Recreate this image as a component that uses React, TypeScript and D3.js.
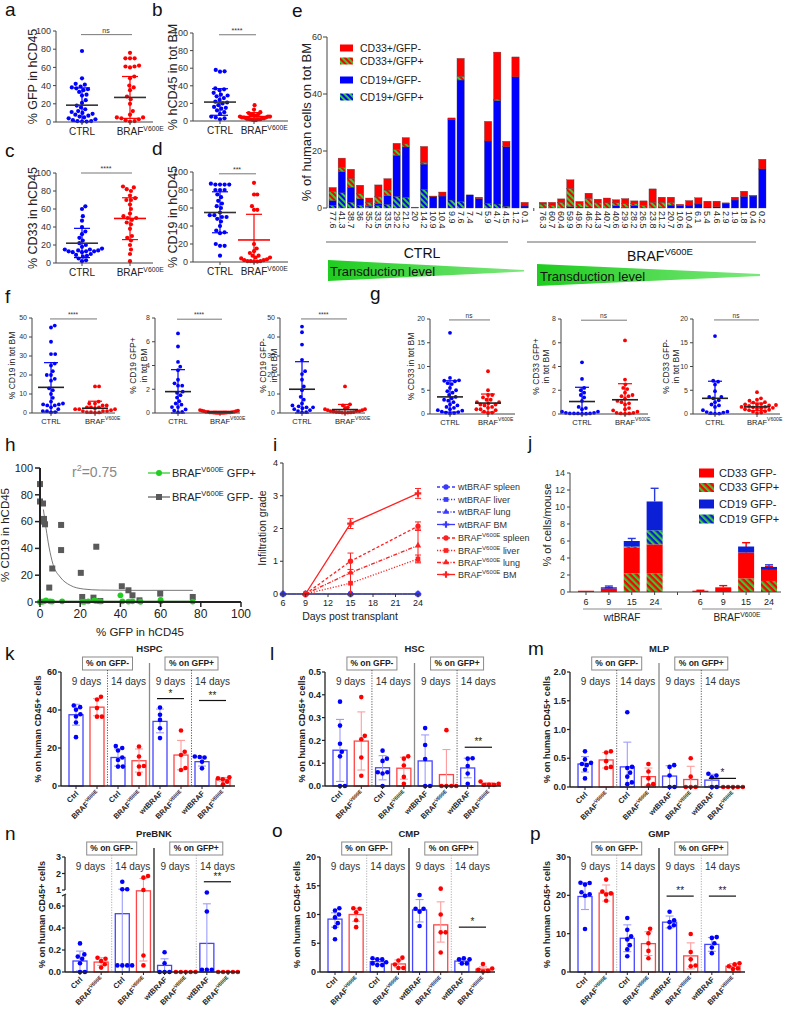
import React from "react";
import * as d3 from "d3";

const FONT = "'Liberation Sans', Arial, sans-serif";
const BLUE = "#0000ff";
const RED = "#ff0000";

// ---- a-d: % values per mouse ----
const aCtrl = [78, 48, 42, 41, 39, 38, 37, 36, 35, 33, 30, 29, 24, 21, 18, 16, 14, 12, 11, 10, 9, 8, 7, 6, 5, 4, 3, 2, 1, 1, 0.5, 0.5];
const aBraf = [76, 70, 70, 70, 62, 61, 61, 60, 50, 48, 40, 38, 35, 28, 25, 20, 12, 8, 5, 5, 4, 3, 2, 1, 0.5];
const aStats = [[18.5, 0.5, 37.5], [27, 4, 50]];
const bCtrl = [58, 56.5, 56, 37, 36, 35, 32, 30, 29, 28, 26, 24, 22, 21, 20, 18, 16, 15, 14, 12, 10, 8, 5, 4, 3, 2];
const bBraf = [18, 13, 10, 9, 8, 7, 7, 6, 6, 5, 5, 5, 4, 4, 4, 3, 3, 3, 3, 2, 2, 2, 1.5, 1, 1];
const bStats = [[21.5, 6.5, 36.7], [5, 1, 9.5]];
const cCtrl = [63, 60, 52, 47, 40, 35, 32, 28, 25, 22, 20, 18, 16, 15, 15, 14, 14, 13, 13, 13, 12, 12, 10, 9, 8, 7, 5, 3, 2];
const cBraf = [85, 84, 82, 80, 75, 72, 70, 70, 65, 60, 55, 52, 50, 50, 48, 45, 43, 38, 30, 28, 25, 20, 15, 10, 2];
const cStats = [[22, 6, 38.5], [49.5, 26, 72.5]];
const dCtrl = [87, 86, 86, 86, 86, 80, 80, 80, 75, 72, 68, 65, 62, 60, 55, 52, 52, 50, 50, 48, 45, 40, 35, 33, 32, 20, 18, 18, 7];
const dBraf = [88, 75, 75, 62, 58, 58, 20, 15, 12, 10, 7, 7, 5, 5, 4, 3, 2, 2, 1, 1, 1, 0.5, 0.5];
const dStats = [[55, 32.5, 78], [24.5, 0, 53]];

// ---- f, g ----
const f1Ctrl = [46, 45, 37.5, 31, 31, 26, 25, 22, 20, 20, 18, 17, 13, 12, 10, 8, 6, 5, 4.5, 4.5, 4, 4, 3, 2, 1, 1, 0.5, 0.3];
const f1Braf = [14, 14, 6, 5, 5, 4, 4, 3, 3, 3, 2.5, 2, 2, 2, 1.5, 1, 1, 1, 0.5, 0.5, 0.3, 0.2];
const f1Stats = [[13.5, 0.5, 26.5], [2.5, 0, 6.2]];
const f2Ctrl = [6.7, 5.6, 4.3, 3.9, 3.6, 2.8, 2.5, 2.3, 2.3, 1.8, 1.7, 1.5, 1.3, 1.0, 0.8, 0.7, 0.5, 0.5, 0.3, 0.2, 0.1, 0.05];
const f2Braf = [0.25, 0.2, 0.2, 0.15, 0.15, 0.1, 0.1, 0.1, 0.08, 0.05, 0.05, 0.05, 0.05, 0.03, 0.03, 0.02, 0.02, 0.01, 0.01, 0.01];
const f2Stats = [[1.8, 0, 3.65], [0.07, 0, 0.15]];
const f3Ctrl = [45.5, 42.5, 36, 28, 22, 20.5, 17.5, 14, 12, 8.5, 7, 5, 4, 3.5, 3, 3, 2.5, 2, 1.5, 1, 0.5, 0.3];
const f3Braf = [14, 4.5, 4, 3, 2.5, 2, 2, 1.5, 1.5, 1, 1, 1, 0.8, 0.5, 0.5, 0.5, 0.3, 0.2, 0.2, 0.1];
const f3Stats = [[12.5, 0, 27], [1.8, 0, 4.5]];
const g1Ctrl = [17.1, 7.6, 7.1, 7, 6.9, 6.5, 6.3, 5.5, 5, 4.8, 4.5, 4, 3.6, 3.3, 3, 2.8, 2.5, 2, 1.8, 1.5, 1.3, 1, 0.8, 0.7, 0.5, 0.4, 0.3, 0.2, 0.1];
const g1Braf = [9, 5, 4, 4, 3.5, 3, 3, 2.5, 2.5, 2.2, 2, 2, 1.8, 1.5, 1.3, 1, 1, 0.8, 0.5, 0.3, 0.2];
const g1Stats = [[3.6, 0.4, 7], [2.3, 0.4, 4.2]];
const g2Ctrl = [4.35, 2.95, 2.2, 2.0, 1.8, 1.6, 1.4, 1.1, 0.6, 0.5, 0.4, 0.2, 0.2, 0.1, 0.1, 0.05, 0.05, 0.05, 0.05, 0.03, 0.02];
const g2Braf = [6.2, 2.9, 2.5, 2.2, 2.1, 1.8, 1.6, 1.5, 1.5, 1.3, 1.1, 1.0, 0.9, 0.8, 0.5, 0.4, 0.3, 0.2, 0.1, 0.1, 0.05, 0.05, 0.02];
const g2Stats = [[1.05, 0, 2.25], [1.2, 0, 2.55]];
const g3Ctrl = [16.4, 7, 6.8, 6.2, 4.8, 3.6, 3.6, 3.3, 2.9, 2.5, 2, 1.8, 1.5, 0.8, 0.5, 0.4, 0.3, 0.2, 0.1, 0.1];
const g3Braf = [4.6, 3.3, 3, 2.8, 2.5, 2.4, 2.1, 2, 2, 1.9, 1.8, 1.7, 1.5, 1.5, 1.4, 1.3, 1.2, 1.1, 1, 0.9, 0.8, 0.6, 0.5, 0.3, 0.2];
const g3Stats = [[3.3, 0, 6.9], [1.5, 0.7, 2.3]];

// ---- e: stacked per mouse, labelled by transduction level ----
const eCtrlLabels = ["77.6", "41.3", "38.7", "36", "35.2", "33.5", "33.5", "29.2", "21.2", "20", "14.2", "10.9", "10.4", "9.9", "7.6", "7.4", "7", "5.9", "4.7", "4.5", "1.2", "0.1"];
const eCtrlCd19gp = [1.0, 5.3, 2.0, 1.0, 0.5, 0.8, 1.2, 4.0, 3.7, 0, 6.5, 0, 0, 2.8, 2.2, 0, 0, 1.6, 1.4, 0.6, 0, 0];
const eCtrlCd19gm = [1.6, 7.4, 5.3, 2.2, 0.3, 0.8, 3.1, 14.5, 17.7, 0, 8.9, 3.9, 4.2, 28.3, 42.7, 4.6, 3.3, 21.9, 36.3, 20.9, 46, 0.7];
const eCtrlCd33gp = [3.2, 1.5, 3.0, 1.8, 1.2, 2.3, 2.0, 2.0, 1.1, 0, 0.6, 0, 0, 0, 1.3, 0, 0, 0, 0.5, 0, 0, 0];
const eCtrlCd33gm = [1.4, 3.3, 3.3, 3.0, 1.5, 4.2, 4.0, 2.2, 2.2, 0.3, 5.6, 0.3, 1.4, 0.5, 6.3, 0, 0.5, 6.9, 16.5, 1.9, 7.0, 1.3];
const eBrafLabels = ["76.3", "60.7", "60.4", "59.9", "49.6", "46.2", "44.3", "40.7", "40.6", "29.9", "28.2", "26.5", "23.8", "21.2", "20.7", "10.6", "10.4", "6.1", "5.4", "4.6", "2.9", "1.9", "1.8", "0.4", "0.2"];
const eBrafCd19gp = [0.2, 0, 0, 0, 0, 0, 0, 0, 0, 0, 0, 0, 0, 0, 0, 0, 0, 0, 0, 0, 0, 0, 0, 0, 0];
const eBrafCd19gm = [0, 0, 0, 0.5, 0.3, 0.3, 0, 0, 0.8, 0.2, 0.9, 0, 0, 0.2, 1.0, 0.9, 1.0, 1.4, 0.3, 0.4, 1.7, 2.8, 4.1, 4.2, 13.7];
const eBrafCd33gp = [1.2, 1.0, 2.0, 6.3, 1.2, 3.0, 1.8, 1.8, 1.0, 1.3, 0.6, 0.9, 2.0, 1.8, 0.9, 0, 0, 0, 0, 0, 0, 0, 0, 0, 0];
const eBrafCd33gm = [0.6, 1.0, 1.2, 3.1, 0.8, 1.9, 1.3, 1.7, 1.1, 1.8, 1.0, 1.6, 4.7, 1.8, 1.9, 0.4, 1.6, 2.2, 2.1, 2.0, 0.1, 1.0, 1.8, 0.2, 3.4];

// ---- h ----
const hNegX = [0, 0, 1.5, 2, 2, 2.5, 4.6, 6.1, 10.5, 10.5, 20.3, 21, 26.6, 28, 30, 40.7, 44, 46, 49.5, 59.8, 76];
const hNegY = [88, 75, 73.5, 62, 60, 58, 10.75, 25, 57.5, 38.75, 21.75, 3.75, 3.25, 41.25, 0.75, 11.75, 8.75, 5, 1.25, 6.25, 3.75];
const hPosX = [0, 1, 2, 3, 5, 6, 11, 21, 22, 24, 27, 28, 30, 40, 41, 44, 46, 50, 60, 60, 76];
const hPosY = [0, 0.2, 0.5, 1.2, 0.5, 0.3, 0.5, 0.3, 0.2, 0.5, 1.2, 0.8, 0.4, 5, 0.5, 0.3, 0.5, 0.2, 0.5, 1.5, 0.3];
const hFitNegX = [1.7, 3, 4.5, 6.5, 10, 15, 21.6, 30, 45, 76];
const hFitNegY = [69, 55, 41, 28, 18.7, 12.5, 9.7, 8.9, 8.7, 8.7];
const hFitPosX = [0, 76];
const hFitPosY = [0.6, 0.6];

// ---- i ----
const iDays = [6, 9, 15, 24];
const iWtSpleen = [0, 0, 0, 0];
const iWtLiver = [0, 0, 0, 0];
const iWtLung = [0, 0, 0, 0];
const iWtBM = [0, 0, 0, 0];
const iBrafDays = [9, 15, 24];
const iBrafSpleen = [0, 1.0, 2.07];
const iBrafSpleenErr = [0, 0.25, 0.13];
const iBrafLiver = [0, 0.33, 1.07];
const iBrafLiverErr = [0, 0.33, 0.12];
const iBrafLung = [0, 0.65, 1.48];
const iBrafLungErr = [0, 0, 0.5];
const iBrafBM = [0, 2.15, 3.07];
const iBrafBMErr = [0, 0.15, 0.15];

// ---- j ----
const jDays = ["6", "9", "15", "24"];
const jWtCd33gp = [0, 0, 2.2, 2.2];
const jWtCd33gm = [0.15, 0.4, 3.0, 3.4];
const jWtCd19gp = [0, 0, 0.15, 1.65];
const jWtCd19gm = [0, 0.15, 0.65, 3.4];
const jBrCd33gp = [0, 0, 1.6, 1.3];
const jBrCd33gm = [0.15, 0.55, 3.05, 1.3];
const jBrCd19gp = [0, 0, 0, 0];
const jBrCd19gm = [0, 0, 0.7, 0.35];
const jWtErr33 = [0, 0.1, 0.55, 0.45];
const jBrErr33 = [0.05, 0.2, 1.15, 0.4];
const jWtErr19p = [0, 0, 0, 0.55];
const jBrErr19p = [0, 0, 0, 0];
const jWtErr19m = [0, 0.15, 0.3, 1.55];
const jBrErr19m = [0, 0, 0, 0.25];

// ---- k-p: bar = mean, lo/hi = SD, dots = mice ----
const groupLabels = ["Ctrl", "BRAF", "Ctrl", "BRAF", "wtBRAF", "BRAF", "wtBRAF", "BRAF"];
const kBars = [37.5, 41.5, 15, 13.3, 34, 16.3, 12.8, 3.5];
const kLo = [32, 37, 10.5, 7.3, 28, 8.5, 10.5, 2.5];
const kHi = [43, 46, 19.5, 19.5, 40.5, 24, 15.5, 4.5];
const kDots = [[42.4, 41.5, 40.1, 37.8, 36.6, 33.4, 25.7], [47, 45.5, 41, 36.5, 36.5], [21, 20, 18.7, 15, 13.7, 10.2, 10.2], [20.8, 15.5, 10.5, 10.3, 6.3], [41.3, 37.5, 34.8, 30.4, 25.2], [29.2, 18, 16.3, 9.5, 8.4], [15.5, 15.3, 15, 12.8, 9.3], [4.6, 4, 3.5, 2.3, 0.9]];
const lBars = [0.157, 0.197, 0.08, 0.078, 0.11, 0.05, 0.079, 0.01];
const lLo = [0.02, 0.07, 0.027, 0.03, 0, 0, 0.036, 0.005];
const lHi = [0.292, 0.325, 0.133, 0.126, 0.224, 0.16, 0.122, 0.015];
const lDots = [[0.37, 0.265, 0.185, 0.15, 0.13, 0, 0], [0.39, 0.22, 0.205, 0.125, 0.045], [0.155, 0.12, 0.11, 0.06, 0.06, 0.055, 0], [0.13, 0.12, 0.09, 0.04, 0.01], [0.254, 0.18, 0.118, 0, 0], [0.245, 0, 0, 0, 0], [0.122, 0.12, 0.088, 0.055, 0.01], [0.02, 0.01, 0.005, 0.005, 0.005]];
const mBars = [0.4, 0.47, 0.35, 0.18, 0.19, 0.13, 0.12, 0];
const mLo = [0.26, 0.33, 0, 0.03, 0, 0, 0.02, 0];
const mHi = [0.53, 0.6, 0.78, 0.33, 0.37, 0.36, 0.22, 0];
const mDots = [[0.62, 0.48, 0.42, 0.4, 0.38, 0.3, 0.15], [0.62, 0.6, 0.45, 0.35, 0.33], [1.3, 0.35, 0.33, 0.25, 0.18, 0.08, 0.05], [0.4, 0.27, 0.15, 0.05, 0.03], [0.38, 0.35, 0.2, 0, 0], [0.5, 0.18, 0, 0, 0], [0.23, 0.2, 0.17, 0, 0], [0, 0, 0, 0, 0]];
const nBars = [0.1, 0.09, 0.53, 0.95, 0.06, 0, 0.26, 0];
const nLo = [0.01, 0.06, 0, 0.1, 0, 0, 0, 0];
const nHi = [0.19, 0.13, 1.05, 1.7, 0.12, 0, 0.62, 0];
const nDots = [[0.26, 0.16, 0.14, 0.12, 0.08, 0, 0], [0.13, 0.12, 0.1, 0.07, 0.04], [1.5, 1.05, 1.05, 0.06, 0.06, 0.06, 0.06], [1.85, 1.75, 1.0, 0.15, 0.06], [0.18, 0.08, 0, 0, 0], [0, 0, 0, 0, 0], [0.85, 0.55, 0.02, 0.02, 0.02], [0, 0, 0, 0, 0]];
const oBars = [9.2, 10, 1.8, 1.4, 10.8, 8.2, 1.9, 0.5];
const oLo = [7.8, 8.8, 1.3, 0.8, 8.7, 5.2, 1.5, 0.1];
const oHi = [10.3, 11.1, 2.2, 2.1, 12.6, 12.2, 2.3, 0.9];
const oDots = [[11.1, 10.7, 10, 9.5, 8.5, 7.8, 5.7], [11.1, 11, 10.4, 9, 7.8], [2.4, 2.2, 2.2, 1.7, 1.5, 1.2, 1.2], [2.5, 2.0, 1.3, 0.7, 0.7], [13.4, 11, 11, 10.5, 8], [14.5, 10, 6.9, 6.9, 3.4], [2.4, 2.2, 2.2, 1.5, 1.5], [1.4, 0.6, 0.4, 0.2, 0.1]];
const pBars = [19.7, 20.6, 8.8, 7.4, 13.0, 4.2, 7.2, 1.5];
const pLo = [16.3, 18.5, 5.3, 4.3, 11.5, 0.8, 5.4, 0.9];
const pHi = [23.3, 22.7, 12.3, 10.5, 14.6, 7.6, 9.0, 2.2];
const pDots = [[23.3, 23.2, 22.8, 20.8, 20.3, 19.9, 11.2], [24.1, 21.0, 20.5, 20.2, 18.6], [14.1, 11.0, 9.3, 8.5, 7.0, 5.9, 4.1], [11.3, 10.1, 7.5, 5.5, 3.6], [15.7, 13.5, 13.0, 12.2, 11.6], [9.9, 5.2, 3.3, 1.7, 1.5], [9.1, 8.9, 7.5, 6.4, 4.9], [2.3, 2.0, 1.5, 0.9, 0.8]];

// simple beeswarm: x offsets so dots don't overlap, squeezed if wider than maxW
function swarm(ys: number[], d: number, maxW = Infinity): number[] {
  const order = d3.range(ys.length).sort((a, b) => ys[b] - ys[a]);
  const placed: [number, number][] = [];
  const out = new Array(ys.length).fill(0);
  for (const i of order) {
    const y = ys[i];
    const cands = [0];
    for (const [px, py] of placed) {
      const dy = Math.abs(py - y);
      if (dy < d) {
        const dx = Math.sqrt(d * d - dy * dy);
        cands.push(px + dx + 0.01, px - dx - 0.01);
      }
    }
    cands.sort((a, b) => Math.abs(a) - Math.abs(b));
    let x = 0;
    for (const c of cands) {
      if (placed.every(([px, py]) => (px - c) ** 2 + (py - y) ** 2 >= d * d - 0.02)) { x = c; break; }
    }
    placed.push([x, y]);
    out[i] = x;
  }
  const w = d3.max(out, (v) => Math.abs(v)) || 0;
  return w > maxW ? out.map((v) => (v * maxW) / w) : out;
}

function Braf({ fs, rest }: { fs: number; rest?: string }) {
  return (
    <>
      <tspan>BRAF</tspan>
      <tspan fontSize={fs * 0.68} dy={-fs * 0.42}>V600E</tspan>
      {rest ? <tspan dx={fs * 0.28} dy={fs * 0.42}>{rest}</tspan> : null}
    </>
  );
}

function DotPanel(c: any) {
  const y = d3.scaleLinear().domain([0, c.max]).range([c.yBot, c.yTop]);
  const x = d3.scalePoint<string>().domain(["CTRL", "BRAF"]).range(c.cats);
  const s = c.small;
  const r = s ? 1.9 : 2.1;
  const fsT = s ? 7 : 9, fsX = s ? 7.5 : 10, fsL = s ? 8.5 : 12.5;
  const mw = s ? 13 : 16, cw = s ? 7 : 8;
  const groups = [{ k: "CTRL", v: c.ctrl, col: BLUE }, { k: "BRAF", v: c.braf, col: RED }];
  const ticks = d3.range(0, c.max + c.step / 2, c.step);
  const midY = (c.yTop + c.yBot) / 2;
  const sy = y(c.sigV);
  return (
    <g>
      {groups.map((g, gi) => {
        const ys = g.v.map((v: number) => y(v));
        const off = swarm(ys, 2 * r + 0.4, c.maxW || 20);
        const cx = x(g.k)!;
        const [m, lo, hi] = c.stats[gi];
        return (
          <g key={g.k}>
            {ys.map((yy: number, i: number) => <circle key={i} cx={cx + off[i]} cy={yy} r={r} fill={g.col} />)}
            <line x1={cx} x2={cx} y1={y(lo)} y2={y(hi)} stroke={g.col} strokeWidth={1.2} />
            <line x1={cx - cw} x2={cx + cw} y1={y(hi)} y2={y(hi)} stroke={g.col} strokeWidth={1.2} />
            <line x1={cx - cw} x2={cx + cw} y1={y(lo)} y2={y(lo)} stroke={g.col} strokeWidth={1.2} />
            <line x1={cx - mw} x2={cx + mw} y1={y(m)} y2={y(m)} stroke={c.meanCols[gi]} strokeWidth={1.6} />
          </g>
        );
      })}
      <line x1={c.axisX} x2={c.axisX} y1={c.yTop} y2={c.yBot} stroke="#444" />
      <line x1={c.axisX} x2={c.xEnd} y1={c.yBot} y2={c.yBot} stroke="#444" />
      {ticks.map((t: number) => (
        <g key={t}>
          <line x1={c.axisX - 3} x2={c.axisX} y1={y(t)} y2={y(t)} stroke="#444" />
          <text x={c.axisX - 5} y={y(t)} dy="0.35em" textAnchor="end" fontSize={fsT} fill="#333">{t}</text>
        </g>
      ))}
      {groups.map((g) => (
        <line key={g.k} x1={x(g.k)} x2={x(g.k)} y1={c.yBot} y2={c.yBot + 3} stroke="#444" />
      ))}
      <text x={x("CTRL")} y={c.yBot + fsX + 3} textAnchor="middle" fontSize={fsX} fill="#222">CTRL</text>
      <text x={x("BRAF")! - 1.33 * fsX} y={c.yBot + fsX + 3} fontSize={fsX} fill="#222"><Braf fs={fsX} /></text>
      <line x1={c.cats[0] - 1} x2={c.cats[1] + 2} y1={sy} y2={sy} stroke="#777" />
      <text x={(c.cats[0] + c.cats[1]) / 2} y={sy - 2} textAnchor="middle" fontSize={s ? 6.5 : 7} fill="#333">{c.sig}</text>
      {c.ylabel.map((t: string, i: number) => (
        <text key={i} transform={`translate(${c.ylabelX[i]},${midY}) rotate(-90)`} textAnchor="middle" fontSize={fsL} fill="#222">{t}</text>
      ))}
    </g>
  );
}

const eKeys = ["cd19gp", "cd19gm", "cd33gp", "cd33gm"];
const eFill: any = { cd19gp: "url(#stBG)", cd19gm: BLUE, cd33gp: "url(#stRG)", cd33gm: RED };

function PanelE() {
  const slots = [...eCtrlLabels.map((_, i) => "c" + i), "gap", ...eBrafLabels.map((_, i) => "b" + i)];
  const labels = [...eCtrlLabels, "", ...eBrafLabels];
  const rows = slots.map((s) => {
    if (s === "gap") return { slot: s, cd19gp: 0, cd19gm: 0, cd33gp: 0, cd33gm: 0 };
    const k = +s.slice(1);
    const ctrl = s[0] === "c";
    return {
      slot: s,
      cd19gp: (ctrl ? eCtrlCd19gp : eBrafCd19gp)[k],
      cd19gm: (ctrl ? eCtrlCd19gm : eBrafCd19gm)[k],
      cd33gp: (ctrl ? eCtrlCd33gp : eBrafCd33gp)[k],
      cd33gm: (ctrl ? eCtrlCd33gm : eBrafCd33gm)[k],
    };
  });
  const stack = d3.stack<any>().keys(eKeys)(rows);
  const x = d3.scaleBand().domain(slots).range([329, 766]).paddingInner(0.2);
  const y = d3.scaleLinear().domain([0, 60]).range([208, 37]);
  const legend = [
    { k: "cd33gm", t: "CD33+/GFP-", y: 48 },
    { k: "cd33gp", t: "CD33+/GFP+", y: 61 },
    { k: "cd19gm", t: "CD19+/GFP-", y: 80 },
    { k: "cd19gp", t: "CD19+/GFP+", y: 97 },
  ];
  return (
    <g>
      {stack.map((layer) => (
        <g key={layer.key}>
          {layer.map((d: any, i: number) =>
            d[1] - d[0] > 0 ? (
              <rect key={i} x={x(slots[i])} width={x.bandwidth()} y={y(d[1])} height={y(d[0]) - y(d[1])}
                fill={eFill[layer.key]} stroke="#444" strokeWidth={0.35} />
            ) : null
          )}
        </g>
      ))}
      <line x1={327} x2={327} y1={37} y2={208} stroke="#444" />
      {[0, 20, 40, 60].map((t) => (
        <g key={t}>
          <line x1={323} x2={327} y1={y(t)} y2={y(t)} stroke="#444" />
          <text x={322} y={y(t)} dy="0.35em" textAnchor="end" fontSize={9} fill="#333">{t}</text>
        </g>
      ))}
      <line x1={x("gap")! + x.bandwidth() / 2} x2={x("gap")! + x.bandwidth() / 2} y1={208} y2={211} stroke="#444" />
      {labels.map((l, i) =>
        l ? (
          <text key={i} transform={`translate(${x(slots[i])! + x.bandwidth() / 2 - 3},${211}) rotate(90)`} fontSize={9} fill="#222">{l}</text>
        ) : null
      )}
      <text transform="translate(311,122) rotate(-90)" textAnchor="middle" fontSize={13} fill="#222">% of human cells on tot BM</text>
      {legend.map((l) => (
        <g key={l.k}>
          <rect x={340} y={l.y - 3.5} width={13} height={7} fill={eFill[l.k]} />
          <text x={360} y={l.y} dy="0.35em" fontSize={10.5} fill="#222">{l.t}</text>
        </g>
      ))}
      <line x1={326} x2={508} y1={242} y2={242} stroke="#666" />
      <line x1={527} x2={756} y1={242} y2={242} stroke="#666" />
      <text x={422} y={258} textAnchor="middle" fontSize={14} fill="#111">CTRL</text>
      <text x={660} y={261} textAnchor="middle" fontSize={14} fill="#111"><Braf fs={14} /></text>
      <polygon points="328,260 524,270 524,271.5 328,281" fill="url(#tri)" />
      <polygon points="537,264 760,274 760,276 537,286" fill="url(#tri)" />
      <text x={330} y={276} fontSize={13} fill="#111">Transduction level</text>
      <text x={540} y={281} fontSize={13} fill="#111">Transduction level</text>
    </g>
  );
}

function PanelH() {
  const x = d3.scaleLinear().domain([0, 100]).range([40, 241]);
  const y = d3.scaleLinear().domain([0, 100]).range([602, 468]);
  const line = d3.line<[number, number]>().x((d) => x(d[0])).y((d) => y(d[1])).curve(d3.curveMonotoneX);
  const negFit = hFitNegX.map((v, i) => [v, hFitNegY[i]] as [number, number]);
  const posFit = hFitPosX.map((v, i) => [v, hFitPosY[i]] as [number, number]);
  const ticks = [0, 20, 40, 60, 80, 100];
  return (
    <g>
      <path d={line(negFit)!} fill="none" stroke="#777" strokeWidth={1} />
      {hNegX.map((v, i) => (
        <rect key={i} x={x(v) - 3} y={y(hNegY[i]) - 3} width={6} height={6} fill="#5a5a5a" />
      ))}
      {hPosX.map((v, i) => (
        <circle key={i} cx={x(v)} cy={y(hPosY[i])} r={2.9} fill="#22cc22" />
      ))}
      <path d={line(posFit)!} fill="none" stroke="#1d6e1d" strokeWidth={1} />
      <line x1={40} x2={40} y1={468} y2={603} stroke="#222" strokeWidth={2} />
      <line x1={39} x2={241} y1={602} y2={602} stroke="#222" strokeWidth={2} />
      {ticks.map((t) => (
        <g key={t}>
          <line x1={35} x2={40} y1={y(t)} y2={y(t)} stroke="#222" strokeWidth={1.5} />
          <text x={33} y={y(t)} dy="0.35em" textAnchor="end" fontSize={11} fill="#222">{t}</text>
          <line x1={x(t)} x2={x(t)} y1={602} y2={607} stroke="#222" strokeWidth={1.5} />
          <text x={x(t)} y={618} textAnchor="middle" fontSize={12} fill="#222">{t}</text>
        </g>
      ))}
      <text transform="translate(9,535) rotate(-90)" textAnchor="middle" fontSize={11.5} fill="#222">% CD19 in hCD45</text>
      <text x={140} y={636} textAnchor="middle" fontSize={11.5} fill="#222">% GFP in hCD45</text>
      <text x={72} y={477} fontSize={14} fill="#888">r<tspan fontSize={9} dy={-6}>2</tspan><tspan dy={6}>=0.75</tspan></text>
      <line x1={148} x2={170} y1={473} y2={473} stroke="#22cc22" strokeWidth={1.2} />
      <circle cx={159} cy={473} r={3} fill="#22cc22" />
      <text x={172} y={477} fontSize={11} fill="#222"><Braf fs={11} rest="GFP+" /></text>
      <line x1={148} x2={170} y1={497} y2={497} stroke="#5a5a5a" strokeWidth={1.2} />
      <rect x={156} y={494} width={6} height={6} fill="#5a5a5a" />
      <text x={172} y={501} fontSize={11} fill="#222"><Braf fs={11} rest="GFP-" /></text>
    </g>
  );
}

const iStyles = [
  { name: "spleen", dash: "3,2", sym: d3.symbolCircle, size: 22 },
  { name: "liver", dash: "1.2,1.6", sym: d3.symbolSquare, size: 22 },
  { name: "lung", dash: "4,1.5,1,1.5", sym: d3.symbolTriangle, size: 18 },
  { name: "BM", dash: "", sym: d3.symbolCross, size: 24 },
];

function PanelI() {
  const x = d3.scaleLinear().domain([6, 24]).range([283, 418]);
  const y = d3.scaleLinear().domain([0, 4]).range([594, 463]);
  const wt = [iWtSpleen, iWtLiver, iWtLung, iWtBM];
  const br = [iBrafSpleen, iBrafLiver, iBrafLung, iBrafBM];
  const brErr = [iBrafSpleenErr, iBrafLiverErr, iBrafLungErr, iBrafBMErr];
  const line = d3.line<number>();
  const legendY = [487, 499.5, 512, 524.5, 538, 550.5, 562.5, 574.5];
  const wtCol = "#3a3aff";
  const brCol = "#ff2020";
  return (
    <g>
      {wt.map((vals, si) => (
        <g key={"w" + si}>
          <path d={line.x((_, i) => x(iDays[i])).y((v) => y(v))(vals)!} fill="none" stroke="#7a7aff" strokeWidth={1.4} strokeDasharray={iStyles[si].dash} />
          {vals.map((v, i) => (
            <path key={i} d={d3.symbol().type(iStyles[si].sym).size(iStyles[si].size)()!} transform={`translate(${x(iDays[i])},${y(v)})`} fill={wtCol} />
          ))}
        </g>
      ))}
      {br.map((vals, si) => (
        <g key={"b" + si}>
          <path d={line.x((_, i) => x(iBrafDays[i])).y((v) => y(v))(vals)!} fill="none" stroke={brCol} strokeWidth={1.3} strokeDasharray={iStyles[si].dash} />
          {vals.map((v, i) => {
            const e = brErr[si][i];
            const cx = x(iBrafDays[i]);
            return (
              <g key={i}>
                {e > 0 ? (
                  <g stroke={brCol} strokeWidth={1}>
                    <line x1={cx} x2={cx} y1={y(v - e)} y2={y(v + e)} />
                    <line x1={cx - 3} x2={cx + 3} y1={y(v - e)} y2={y(v - e)} />
                    <line x1={cx - 3} x2={cx + 3} y1={y(v + e)} y2={y(v + e)} />
                  </g>
                ) : null}
                <path d={d3.symbol().type(iStyles[si].sym).size(iStyles[si].size)()!} transform={`translate(${cx},${y(v)})`} fill={brCol} />
              </g>
            );
          })}
        </g>
      ))}
      <line x1={283} x2={283} y1={463} y2={594} stroke="#333" />
      <line x1={283} x2={420} y1={594} y2={594} stroke="#333" />
      {[0, 1, 2, 3, 4].map((t) => (
        <g key={t}>
          <line x1={280} x2={283} y1={y(t)} y2={y(t)} stroke="#333" />
          <text x={278} y={y(t)} dy="0.35em" textAnchor="end" fontSize={9} fill="#222">{t}</text>
        </g>
      ))}
      {[6, 9, 12, 15, 18, 21, 24].map((t) => (
        <g key={t}>
          <line x1={x(t)} x2={x(t)} y1={594} y2={597} stroke="#333" />
          <text x={x(t)} y={606} textAnchor="middle" fontSize={9} fill="#222">{t}</text>
        </g>
      ))}
      <text x={350} y={620} textAnchor="middle" fontSize={10.5} fill="#222">Days post transplant</text>
      <text transform="translate(266,528) rotate(-90)" textAnchor="middle" fontSize={10.5} fill="#222">Infiltration grade</text>
      {iStyles.map((st, si) => (
        <g key={"lw" + si}>
          <line x1={437} x2={455} y1={legendY[si]} y2={legendY[si]} stroke={wtCol} strokeWidth={1.3} strokeDasharray={st.dash} />
          <path d={d3.symbol().type(st.sym).size(st.size)()!} transform={`translate(446,${legendY[si]})`} fill={wtCol} />
          <text x={458} y={legendY[si]} dy="0.35em" fontSize={9} fill="#333">wtBRAF {st.name}</text>
        </g>
      ))}
      {iStyles.map((st, si) => (
        <g key={"lb" + si}>
          <line x1={437} x2={455} y1={legendY[si + 4]} y2={legendY[si + 4]} stroke={brCol} strokeWidth={1.3} strokeDasharray={st.dash} />
          <path d={d3.symbol().type(st.sym).size(st.size)()!} transform={`translate(446,${legendY[si + 4]})`} fill={brCol} />
          <text x={458} y={legendY[si + 4]} dy="0.35em" fontSize={9} fill="#333"><Braf fs={9} rest={st.name} /></text>
        </g>
      ))}
    </g>
  );
}

const jKeys = ["cd33gp", "cd33gm", "cd19gp", "cd19gm"];
const jFill: any = { cd33gp: "url(#jRG)", cd33gm: RED, cd19gp: "url(#jBG)", cd19gm: "#0b1fd6" };

function PanelJ() {
  const slots = ["w6", "w9", "w15", "w24", "gap", "b6", "b9", "b15", "b24"];
  const rows = slots.map((s) => {
    if (s === "gap") return { cd33gp: 0, cd33gm: 0, cd19gp: 0, cd19gm: 0, e33: 0, e19p: 0, e19m: 0 };
    const k = jDays.indexOf(s.slice(1));
    const wt = s[0] === "w";
    return {
      cd33gp: (wt ? jWtCd33gp : jBrCd33gp)[k],
      cd33gm: (wt ? jWtCd33gm : jBrCd33gm)[k],
      cd19gp: (wt ? jWtCd19gp : jBrCd19gp)[k],
      cd19gm: (wt ? jWtCd19gm : jBrCd19gm)[k],
      e33: (wt ? jWtErr33 : jBrErr33)[k],
      e19p: (wt ? jWtErr19p : jBrErr19p)[k],
      e19m: (wt ? jWtErr19m : jBrErr19m)[k],
    };
  });
  const stack = d3.stack<any>().keys(jKeys)(rows);
  const x = d3.scaleBand().domain(slots).range([578, 777]).paddingInner(0.3);
  const y = d3.scaleLinear().domain([0, 14]).range([592, 473]);
  const errKey: any = { cd33gm: ["e33", RED], cd19gp: ["e19p", "#3b5bff"], cd19gm: ["e19m", "#2a3ae0"] };
  const legend = [
    { k: "cd33gm", t: "CD33 GFP-", y: 473 },
    { k: "cd33gp", t: "CD33 GFP+", y: 487.5 },
    { k: "cd19gm", t: "CD19 GFP-", y: 504 },
    { k: "cd19gp", t: "CD19 GFP+", y: 519 },
  ];
  const cx = (s: string) => x(s)! + x.bandwidth() / 2;
  return (
    <g>
      {stack.map((layer) => (
        <g key={layer.key}>
          {layer.map((d: any, i: number) => {
            if (d[1] - d[0] <= 0) return null;
            const ek = errKey[layer.key];
            const e = ek ? rows[i][ek[0]] : 0;
            return (
              <g key={i}>
                {e > 0 ? (
                  <g stroke={ek[1]} strokeWidth={1.4}>
                    <line x1={cx(slots[i])} x2={cx(slots[i])} y1={y(d[1])} y2={y(d[1] + e)} />
                    <line x1={cx(slots[i]) - 4} x2={cx(slots[i]) + 4} y1={y(d[1] + e)} y2={y(d[1] + e)} />
                  </g>
                ) : null}
                <rect x={x(slots[i])} width={x.bandwidth()} y={y(d[1])} height={y(d[0]) - y(d[1])} fill={jFill[layer.key]} />
              </g>
            );
          })}
        </g>
      ))}
      <line x1={570} x2={570} y1={473} y2={592} stroke="#444" />
      <line x1={570} x2={781} y1={592} y2={592} stroke="#444" />
      {d3.range(0, 15, 2).map((t) => (
        <g key={t}>
          <line x1={567} x2={570} y1={y(t)} y2={y(t)} stroke="#444" />
          <text x={565} y={y(t)} dy="0.35em" textAnchor="end" fontSize={9} fill="#333">{t}</text>
        </g>
      ))}
      {slots.map((s) =>
        s === "gap" ? (
          <line key={s} x1={cx(s)} x2={cx(s)} y1={592} y2={595} stroke="#444" />
        ) : (
          <g key={s}>
            <line x1={cx(s)} x2={cx(s)} y1={592} y2={595} stroke="#444" />
            <text x={cx(s)} y={605} textAnchor="middle" fontSize={9} fill="#222">{s.slice(1)}</text>
          </g>
        )
      )}
      <line x1={583} x2={662} y1={609} y2={609} stroke="#888" />
      <line x1={702} x2={772} y1={609} y2={609} stroke="#888" />
      <text x={622} y={621} textAnchor="middle" fontSize={10} fill="#222">wtBRAF</text>
      <text x={737} y={621} textAnchor="middle" fontSize={10} fill="#222"><Braf fs={10} /></text>
      <text transform="translate(551,525) rotate(-90)" textAnchor="middle" fontSize={11} fill="#222">% of cells/mouse</text>
      {legend.map((l) => (
        <g key={l.k}>
          <rect x={699} y={l.y - 4.5} width={15} height={9} fill={jFill[l.k]} />
          <text x={719} y={l.y} dy="0.35em" fontSize={11} fill="#222">{l.t}</text>
        </g>
      ))}
    </g>
  );
}

function BarDot(c: any) {
  const y = d3.scaleLinear().domain(c.dom).range(c.rng);
  const x = d3.scalePoint<number>().domain(d3.range(8)).range([c.g0, c.g7]);
  const xs = d3.range(8).map((i) => x(i)!);
  const yBot = c.rng[0];
  const yTop = c.rng[c.rng.length - 1];
  const axisX = c.g0 - 15;
  const bw = 7;
  const dotCol = (i: number) => (i % 2 ? RED : BLUE);
  const barCol = (i: number) => (i % 2 ? "#ff4545" : "#4545ff");
  const errCol = (i: number) => (i % 2 ? "#ff9c9c" : "#9c9cff");
  const solidX = (xs[3] + xs[4]) / 2;
  const dot1 = (xs[1] + xs[2]) / 2;
  const dot2 = (xs[5] + xs[6]) / 2;
  const solidCol = c.dark ? "#222" : "#8a8a8a";
  const dottedCol = c.dark ? "#999" : "#333";
  const days = [
    { cx: (xs[0] + xs[1]) / 2, t: "9 days" },
    { cx: (xs[2] + xs[3]) / 2, t: "14 days" },
    { cx: (xs[4] + xs[5]) / 2, t: "9 days" },
    { cx: (xs[6] + xs[7]) / 2, t: "14 days" },
  ];
  const boxes = [
    { cx: dot1, w: 50, t: "% on GFP-" },
    { cx: dot2, w: 53, t: "% on GFP+" },
  ];
  const r = 2.3;
  return (
    <g>
      <text x={solidX} y={yTop - 20} textAnchor="middle" fontSize={9.5} fontWeight="bold" fill="#222">{c.title}</text>
      {boxes.map((b, i) => (
        <g key={i}>
          <rect x={b.cx - b.w / 2} y={yTop - 15} width={b.w} height={13} fill="#fff" stroke="#8a8a8a" />
          <text x={b.cx} y={yTop - 8.5} dy="0.35em" textAnchor="middle" fontSize={8.5} fontWeight="bold" fill="#222">{b.t}</text>
        </g>
      ))}
      <line x1={solidX} x2={solidX} y1={yTop - 9} y2={yBot} stroke={solidCol} strokeWidth={1.3} />
      {[dot1, dot2].map((dx, i) => (
        <line key={i} x1={dx} x2={dx} y1={yTop - 2} y2={yBot} stroke={dottedCol} strokeWidth={0.8} strokeDasharray="1.2,1.4" />
      ))}
      {days.map((d, i) => (
        <text key={i} x={d.cx} y={yTop + 13} textAnchor="middle" fontSize={10} fill="#333">{d.t}</text>
      ))}
      {xs.map((gx, i) => {
        const top = y(c.bars[i]);
        return (
          <g key={i}>
            <rect x={gx - bw} y={top} width={bw * 2} height={Math.max(0, yBot - top)} fill="none" stroke={barCol(i)} strokeWidth={1.3} />
            {c.hi[i] > c.bars[i] ? (
              <g stroke={errCol(i)} strokeWidth={1.1}>
                <line x1={gx} x2={gx} y1={y(c.lo[i])} y2={y(c.hi[i])} />
                <line x1={gx - 4} x2={gx + 4} y1={y(c.hi[i])} y2={y(c.hi[i])} />
                <line x1={gx - 4} x2={gx + 4} y1={y(c.lo[i])} y2={y(c.lo[i])} />
              </g>
            ) : null}
          </g>
        );
      })}
      {c.dots.map((vals: number[], i: number) => {
        const ys = vals.map((v) => y(v));
        const off = swarm(ys, 2 * r + 0.3);
        return (
          <g key={i}>
            {ys.map((yy, k) => <circle key={k} cx={xs[i] + off[k]} cy={yy} r={r} fill={dotCol(i)} />)}
          </g>
        );
      })}
      {c.sigs.map((s: any, i: number) => (
        <g key={i}>
          <line x1={xs[s.i] - 3} x2={xs[s.j] + 3} y1={y(s.v)} y2={y(s.v)} stroke="#111" strokeWidth={1.2} />
          <text x={(xs[s.i] + xs[s.j]) / 2} y={y(s.v) - 2} textAnchor="middle" fontSize={10} fill="#222">{s.t}</text>
        </g>
      ))}
      {c.broken ? (
        <g stroke="#222" strokeWidth={1.3}>
          <line x1={axisX} x2={axisX} y1={yBot} y2={y(0.7)} />
          <line x1={axisX} x2={axisX} y1={y(1)} y2={yTop} />
          <line x1={axisX - 3} x2={axisX + 1} y1={y(0.7) + 1} y2={y(0.7) - 1} />
        </g>
      ) : (
        <line x1={axisX} x2={axisX} y1={yBot} y2={yTop} stroke="#222" strokeWidth={1.3} />
      )}
      <line x1={axisX} x2={xs[7] + 12} y1={yBot} y2={yBot} stroke="#222" strokeWidth={1.3} />
      {c.ticks.map((t: number) => (
        <g key={t}>
          <line x1={axisX - 3} x2={axisX} y1={y(t)} y2={y(t)} stroke="#222" strokeWidth={1.2} />
          <text x={axisX - 4} y={y(t)} dy="0.35em" textAnchor="end" fontSize={9} fontWeight="bold" fill="#222">{c.fmt(t)}</text>
        </g>
      ))}
      {xs.map((gx, i) => (
        <g key={i}>
          <line x1={gx} x2={gx} y1={yBot} y2={yBot + 3} stroke="#222" />
          <text transform={`translate(${gx + 3},${yBot + 8}) rotate(-45)`} textAnchor="end" fontSize={7.5} fontWeight="bold" fill="#222">
            {groupLabels[i] === "BRAF" ? <Braf fs={7.5} /> : groupLabels[i]}
          </text>
        </g>
      ))}
      <text transform={`translate(${axisX - 20},${(yTop + yBot) / 2}) rotate(-90)`} textAnchor="middle" fontSize={9} fontWeight="bold" fill="#222">% on human CD45+ cells</text>
    </g>
  );
}

const letters: [string, number, number][] = [
  ["a", 5, 16], ["b", 152, 16], ["c", 5, 157], ["d", 152, 155], ["e", 292, 17], ["f", 5, 303], ["g", 370, 300],
  ["h", 5, 451], ["i", 273, 451], ["j", 528, 449], ["k", 5, 660], ["l", 270, 660], ["m", 528, 655],
  ["n", 5, 840], ["o", 272, 837], ["p", 530, 840],
];

const f1 = (v: number) => v.toFixed(1);

export default function App() {
  return (
    <div style={{ position: "absolute", left: 0, top: 0 }}>
      <svg width={786} height={1013} style={{ display: "block", fontFamily: FONT, background: "#fff" }}>
        <defs>
          <pattern id="stRG" width="4" height="4" patternUnits="userSpaceOnUse" patternTransform="rotate(-45)">
            <rect width="4" height="4" fill={RED} />
            <rect width="2" height="4" fill="#33cc33" />
          </pattern>
          <pattern id="stBG" width="4" height="4" patternUnits="userSpaceOnUse" patternTransform="rotate(-45)">
            <rect width="4" height="4" fill={BLUE} />
            <rect width="2" height="4" fill="#33cc33" />
          </pattern>
          <pattern id="jRG" width="4.5" height="4.5" patternUnits="userSpaceOnUse" patternTransform="rotate(-45)">
            <rect width="4.5" height="4.5" fill={RED} />
            <rect width="2.2" height="4.5" fill="#33cc33" />
          </pattern>
          <pattern id="jBG" width="4.5" height="4.5" patternUnits="userSpaceOnUse" patternTransform="rotate(-45)">
            <rect width="4.5" height="4.5" fill="#0b1fd6" />
            <rect width="2.2" height="4.5" fill="#33cc33" />
          </pattern>
          <linearGradient id="tri" x1="0" x2="1" y1="0" y2="0">
            <stop offset="0" stopColor="#1fcc1f" />
            <stop offset="1" stopColor="#7de87d" />
          </linearGradient>
        </defs>
        <rect width={786} height={1013} fill="#fff" />
        {letters.map(([t, x, y]) => (
          <text key={t} x={x} y={y} fontSize={19} fill="#111">{t}</text>
        ))}
        <DotPanel axisX={56} xEnd={153} yTop={31} yBot={122} max={100} step={20} cats={[82, 130]} ctrl={aCtrl} braf={aBraf} stats={aStats}
          meanCols={["#333", "#333"]} sig="ns" sigV={96} ylabel={["% GFP in hCD45"]} ylabelX={[37]} />
        <DotPanel axisX={193} xEnd={288} yTop={33} yBot={121} max={100} step={20} cats={[220, 254]} maxW={16} ctrl={bCtrl} braf={bBraf} stats={bStats}
          meanCols={["#333", RED]} sig="****" sigV={98} ylabel={["% hCD45 in tot BM"]} ylabelX={[177]} />
        <DotPanel axisX={56} xEnd={153} yTop={173} yBot={263} max={100} step={20} cats={[82, 130]} ctrl={cCtrl} braf={cBraf} stats={cStats}
          meanCols={["#333", RED]} sig="****" sigV={100} ylabel={["% CD33 in hCD45"]} ylabelX={[37]} />
        <DotPanel axisX={193} xEnd={288} yTop={172} yBot={262} max={100} step={20} cats={[220, 254]} maxW={16} ctrl={dCtrl} braf={dBraf} stats={dStats}
          meanCols={["#333", RED]} sig="***" sigV={98} ylabel={["% CD19 in hCD45"]} ylabelX={[177]} />
        <PanelE />
        <DotPanel small axisX={32} xEnd={115} yTop={318} yBot={413} max={50} step={10} cats={[51, 95]} ctrl={f1Ctrl} braf={f1Braf} stats={f1Stats}
          meanCols={["#222", "#222"]} sig="****" sigV={49.5} ylabel={["% CD19 in tot BM"]} ylabelX={[15]} />
        <DotPanel small axisX={155} xEnd={240} yTop={318} yBot={413} max={8} step={2} cats={[178, 220]} ctrl={f2Ctrl} braf={f2Braf} stats={f2Stats}
          meanCols={["#222", "#222"]} sig="****" sigV={7.9} ylabel={["% CD19 GFP+", "in tot BM"]} ylabelX={[136, 147]} />
        <DotPanel small axisX={280} xEnd={365} yTop={318} yBot={413} max={50} step={10} cats={[302, 345]} ctrl={f3Ctrl} braf={f3Braf} stats={f3Stats}
          meanCols={["#222", "#222"]} sig="****" sigV={49.5} ylabel={["% CD19 GFP-", "in tot BM"]} ylabelX={[266, 277]} />
        <DotPanel small axisX={430} xEnd={515} yTop={319} yBot={414} max={20} step={5} cats={[450, 488]} ctrl={g1Ctrl} braf={g1Braf} stats={g1Stats}
          meanCols={["#222", "#222"]} sig="ns" sigV={19.8} ylabel={["% CD33 in tot BM"]} ylabelX={[414]} />
        <DotPanel small axisX={561} xEnd={648} yTop={319} yBot={414} max={8} step={2} cats={[582, 625]} ctrl={g2Ctrl} braf={g2Braf} stats={g2Stats}
          meanCols={["#222", "#222"]} sig="ns" sigV={7.9} ylabel={["% CD33 GFP+", "in tot BM"]} ylabelX={[539, 549]} />
        <DotPanel small axisX={693} xEnd={780} yTop={319} yBot={414} max={20} step={5} cats={[715, 757]} ctrl={g3Ctrl} braf={g3Braf} stats={g3Stats}
          meanCols={["#222", "#222"]} sig="ns" sigV={19.8} ylabel={["% CD33 GFP-", "in tot BM"]} ylabelX={[669, 679]} />
        <PanelH />
        <PanelI />
        <PanelJ />
        <BarDot title="HSPC" g0={76} g7={223} dom={[0, 60]} rng={[786, 672]} ticks={[0, 20, 40, 60]} fmt={String}
          bars={kBars} lo={kLo} hi={kHi} dots={kDots} sigs={[{ i: 4, j: 5, t: "*", v: 46 }, { i: 6, j: 7, t: "**", v: 45 }]} />
        <BarDot title="HSC" g0={340} g7={489} dom={[0, 0.5]} rng={[786, 672]} ticks={[0, 0.1, 0.2, 0.3, 0.4, 0.5]} fmt={f1}
          bars={lBars} lo={lLo} hi={lHi} dots={lDots} sigs={[{ i: 6, j: 7, t: "**", v: 0.17 }]} />
        <BarDot title="MLP" g0={585} g7={733} dom={[0, 2]} rng={[787, 672]} ticks={[0, 0.5, 1, 1.5, 2]} fmt={f1}
          bars={mBars} lo={mLo} hi={mHi} dots={mDots} sigs={[{ i: 6, j: 7, t: "*", v: 0.15 }]} />
        <BarDot dark broken title="PreBNK" g0={80} g7={228} dom={[0, 0.7, 1, 3]} rng={[972, 895, 890, 857]} ticks={[0, 0.2, 0.4, 0.6, 1, 2, 3]}
          fmt={(v: number) => (v < 1 ? v.toFixed(1) : String(v))}
          bars={nBars} lo={nLo} hi={nHi} dots={nDots} sigs={[{ i: 6, j: 7, t: "**", v: 1.5 }]} />
        <BarDot dark title="CMP" g0={335} g7={483} dom={[0, 20]} rng={[972, 857]} ticks={[0, 5, 10, 15, 20]} fmt={String}
          bars={oBars} lo={oLo} hi={oHi} dots={oDots} sigs={[{ i: 6, j: 7, t: "*", v: 7.8 }]} />
        <BarDot dark title="GMP" g0={585} g7={733} dom={[0, 30]} rng={[972, 857]} ticks={[0, 10, 20, 30]} fmt={String}
          bars={pBars} lo={pLo} hi={pHi} dots={pDots} sigs={[{ i: 4, j: 5, t: "**", v: 19.8 }, { i: 6, j: 7, t: "**", v: 19.8 }]} />
      </svg>
    </div>
  );
}
